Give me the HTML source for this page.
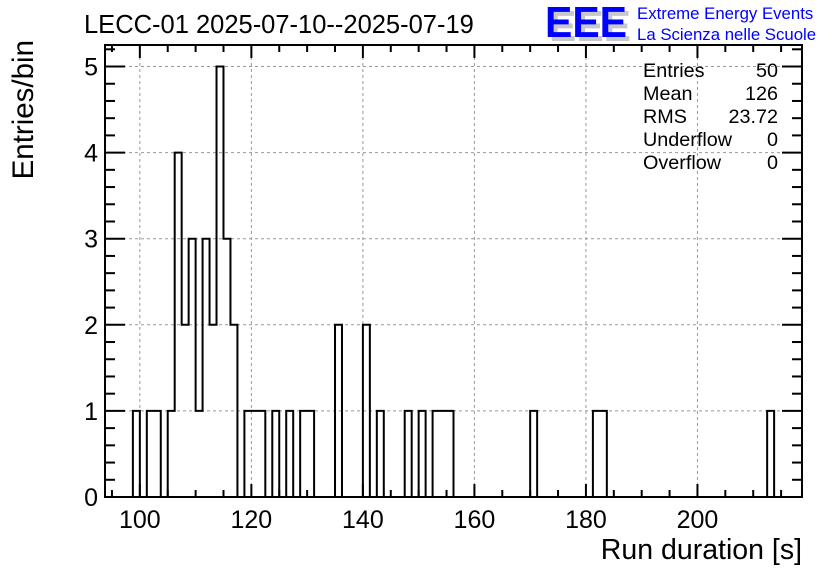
<!DOCTYPE html>
<html><head><meta charset="utf-8"><style>
html,body{margin:0;padding:0;background:#fff;}
svg{display:block;font-family:"Liberation Sans",Arial,sans-serif;}
</style></head><body>
<svg id="c" width="836" height="572" viewBox="0 0 836 572">
<text x="84" y="33" font-size="25.5" fill="#000">LECC-01 2025-07-10--2025-07-19</text>
<g>
<text x="549" y="41" font-size="44" font-weight="bold" fill="#c8c8c8" textLength="82" lengthAdjust="spacingAndGlyphs">EEE</text>
<text x="545" y="37" font-size="44" font-weight="bold" fill="#0000ff" textLength="82" lengthAdjust="spacingAndGlyphs">EEE</text>
<text x="637" y="19" font-size="16.8" fill="#0000ff">Extreme Energy Events</text>
<text x="637" y="40" font-size="16.8" fill="#0000ff">La Scienza nelle Scuole</text>
</g>
<g id="grid"></g>
<g id="hist"></g>
<g id="axes"></g>
<g font-size="19.8" fill="#000">
<text x="643" y="77">Entries</text><text x="778" y="77" text-anchor="end">50</text>
<text x="643" y="100">Mean</text><text x="778" y="100" text-anchor="end">126</text>
<text x="643" y="123">RMS</text><text x="778" y="123" text-anchor="end">23.72</text>
<text x="643" y="146">Underflow</text><text x="778" y="146" text-anchor="end">0</text>
<text x="643" y="169">Overflow</text><text x="778" y="169" text-anchor="end">0</text>
</g>
<text x="802" y="559" font-size="28.5" text-anchor="end">Run duration [s]</text>
<text transform="translate(33,40) rotate(-90)" font-size="29.5" text-anchor="end">Entries/bin</text>
</svg>
<script>
const xMin = 93.75, xMax = 218.75, binWidth = 1.25;
const yMax = 5.25;
const filledBins = [4,6,7,9,10,11,12,13,14,15,16,17,18,20,21,22,24,26,28,29,33,37,39,43,45,47,48,49,61,70,71,95];
const binCounts  = [1,1,1,1,4,2,3,1,3,2,5,3,2,1,1,1,1,1,1,1,2,2,1,1,1,1,1,1,1,1,1,1];
const xTicks = [100,120,140,160,180,200];
const yTicks = [0,1,2,3,4,5];

const L=105,R=802,T=45,B=497;
const sx=v=>L+(v-xMin)/(xMax-xMin)*(R-L);
const sy=v=>B-v/yMax*(B-T);
const NS="http://www.w3.org/2000/svg";
function mk(tag,attrs,parent){const e=document.createElementNS(NS,tag);for(const k in attrs)e.setAttribute(k,attrs[k]);parent.appendChild(e);return e;}
const grid=document.getElementById('grid'),hist=document.getElementById('hist'),axes=document.getElementById('axes');

xTicks.forEach(v=>{const l=mk('line',{x1:sx(v),x2:sx(v),y1:T,y2:B,stroke:'#999','stroke-dasharray':'3,3','stroke-width':1},grid);

});
yTicks.forEach(v=>{if(v===0)return;const l=mk('line',{x1:L,x2:R,y1:sy(v),y2:sy(v),stroke:'#999','stroke-dasharray':'3,3','stroke-width':1},grid);

});

const nb=Math.round((xMax-xMin)/binWidth);
const counts=new Array(nb).fill(0);
filledBins.forEach((b,i)=>counts[b]=binCounts[i]);
let d=`M${sx(xMin)},${sy(0)}`;
for(let i=0;i<nb;i++){const x0=sx(xMin+i*binWidth),x1=sx(xMin+(i+1)*binWidth),y=sy(counts[i]);d+=` L${x0},${y} L${x1},${y}`;}
d+=` L${sx(xMax)},${sy(0)}`;
const p=mk('path',{d:d,fill:'none',stroke:'#000','stroke-width':2},hist);



const f=mk('rect',{x:L,y:T,width:R-L,height:B-T,fill:'none',stroke:'#000','stroke-width':2},axes);


for(let v=95;v<=xMax;v+=5){const maj=v%20===0;const len=maj?13:7;
mk('line',{x1:sx(v),x2:sx(v),y1:B,y2:B-len,stroke:'#000','stroke-width':2},axes);
mk('line',{x1:sx(v),x2:sx(v),y1:T,y2:T+len,stroke:'#000','stroke-width':2},axes);}
xTicks.forEach(v=>{const t=mk('text',{x:sx(v),y:528,'font-size':25,'text-anchor':'middle'},axes);t.textContent=v;

});
for(let k=0;k<=26;k++){const v=k*0.2;if(v>yMax)break;const maj=k%5===0;const len=maj?20:10;
mk('line',{x1:L,x2:L+len,y1:sy(v),y2:sy(v),stroke:'#000','stroke-width':2},axes);
mk('line',{x1:R,x2:R-len,y1:sy(v),y2:sy(v),stroke:'#000','stroke-width':2},axes);}
yTicks.forEach(v=>{const t=mk('text',{x:98,y:sy(v)+9,'font-size':25,'text-anchor':'end'},axes);t.textContent=v;

});
</script>
</body></html>
